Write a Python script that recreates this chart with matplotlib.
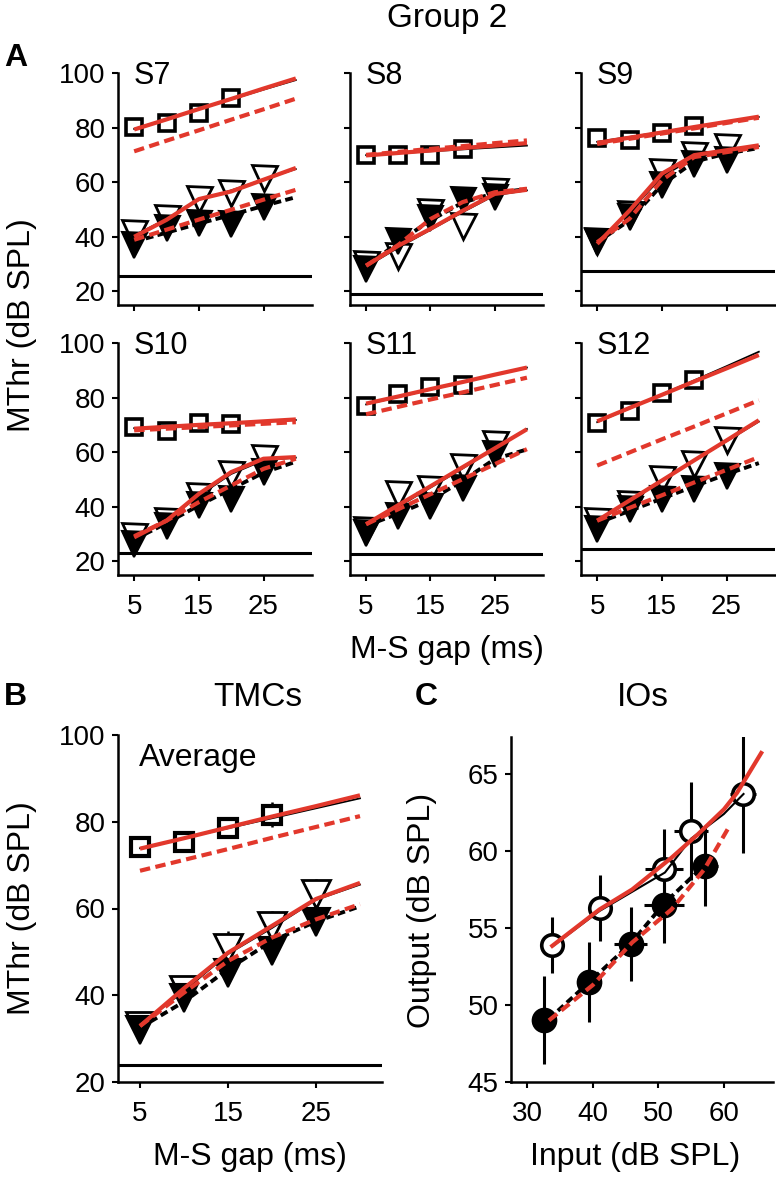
import matplotlib
matplotlib.use('Agg')
import matplotlib.pyplot as plt

plt.rcParams['font.family'] = ['Liberation Sans', 'DejaVu Sans']

RED = '#E2382C'
W, H = 776, 1178

# ---------------- data ----------------
gap_sq = [5, 10, 15, 20]
gap_tri = [5, 10, 15, 20, 25]
gap_fit = [5, 10, 15, 20, 25, 30]

subjects = ['S7', 'S8', 'S9', 'S10', 'S11', 'S12']

sq_data = {
    'S7': [80.1, 81.8, 85.5, 91.0],
    'S8': [70.0, 70.0, 70.0, 72.0],
    'S9': [76.2, 75.6, 78.1, 80.5],
    'S10': [69.2, 67.6, 70.8, 70.4],
    'S11': [76.9, 81.2, 83.7, 84.5],
    'S12': [70.8, 75.0, 81.5, 86.4],
}
open_data = {
    'S7': [41.4, 47.0, 54.0, 56.1, 61.7],
    'S8': [30.0, 33.0, 49.0, 44.0, 56.7],
    'S9': [38.5, 48.4, 63.7, 69.9, 72.9],
    'S10': [29.2, 34.9, 44.1, 52.0, 57.8],
    'S11': [31.5, 44.6, 46.4, 54.4, 62.9],
    'S12': [34.9, 41.0, 50.2, 55.7, 64.3],
}
filled_data = {
    'S7': [37.0, 43.3, 45.1, 44.7, 51.0],
    'S8': [28.2, 38.6, 46.9, 53.3, 54.5],
    'S9': [38.0, 47.2, 58.8, 66.8, 68.0],
    'S10': [26.3, 33.0, 40.7, 42.9, 52.7],
    'S11': [30.5, 36.6, 40.3, 47.0, 59.2],
    'S12': [31.8, 39.2, 42.9, 46.5, 51.4],
}
sq_fit_black = {
    'S7': [79.5, 83.1, 86.7, 90.3, 93.9, 97.4],
    'S8': [69.9, 70.6, 71.3, 72.0, 72.7, 73.4],
    'S9': [74.8, 76.6, 78.4, 80.3, 82.1, 83.9],
    'S10': [68.8, 69.4, 70.0, 70.6, 71.2, 71.8],
    'S11': [77.5, 80.2, 82.9, 85.6, 88.3, 91.0],
    'S12': [71.0, 76.0, 81.2, 86.3, 91.5, 96.8],
}
sq_fit_red = {
    'S7': [79.3, 83.0, 86.8, 90.5, 94.3, 98.0],
    'S8': [69.8, 70.7, 71.6, 72.5, 73.4, 74.3],
    'S9': [74.4, 76.3, 78.2, 80.2, 82.1, 84.0],
    'S10': [68.6, 69.3, 70.0, 70.6, 71.3, 72.0],
    'S11': [77.8, 80.4, 83.1, 85.7, 88.4, 91.0],
    'S12': [71.3, 76.2, 81.0, 85.9, 90.7, 95.6],
}
sq_fit_red_dash = {
    'S7': [71.3, 75.2, 79.0, 82.9, 86.7, 90.6],
    'S8': [70.0, 71.1, 72.2, 73.2, 74.3, 75.3],
    'S9': [74.0, 75.9, 77.8, 79.7, 81.7, 83.6],
    'S10': [68.0, 68.6, 69.2, 69.8, 70.4, 71.0],
    'S11': [73.9, 76.6, 79.3, 81.9, 84.6, 87.3],
    'S12': [55.1, 59.9, 64.7, 69.4, 74.2, 79.0],
}
open_fit_black = {
    'S7': [40.5, 46.5, 53.5, 57.0, 61.0, 64.8],
    'S8': [29.0, 36.0, 42.5, 49.0, 55.2, 57.0],
    'S9': [38.0, 49.0, 62.0, 69.0, 71.5, 73.2],
    'S10': [28.5, 35.0, 44.0, 52.0, 57.0, 58.0],
    'S11': [33.0, 40.0, 47.0, 54.0, 61.5, 68.5],
    'S12': [34.5, 42.0, 49.5, 57.0, 64.0, 71.2],
}
open_fit_red = {
    'S7': [40.0, 46.2, 53.8, 56.6, 60.9, 65.2],
    'S8': [29.4, 36.7, 42.9, 49.5, 55.7, 57.2],
    'S9': [37.4, 49.6, 63.1, 69.9, 71.7, 73.5],
    'S10': [28.8, 34.9, 44.7, 52.7, 57.6, 58.2],
    'S11': [33.6, 40.6, 47.5, 54.5, 61.4, 68.4],
    'S12': [34.9, 42.3, 49.6, 57.0, 64.3, 71.7],
}
filled_fit_black = {
    'S7': [38.2, 41.5, 44.8, 48.0, 51.3, 54.5],
    'S8': [29.0, 38.0, 46.0, 52.5, 56.0, 57.5],
    'S9': [38.0, 46.0, 59.0, 67.5, 70.5, 72.5],
    'S10': [28.0, 34.0, 40.5, 46.5, 52.5, 56.5],
    'S11': [33.0, 37.5, 42.5, 49.5, 57.5, 61.0],
    'S12': [34.0, 38.5, 43.0, 47.5, 51.9, 56.0],
}
filled_fit_red = {
    'S7': [38.9, 42.6, 46.3, 49.9, 53.6, 57.2],
    'S8': [29.4, 37.0, 46.5, 52.7, 56.3, 57.6],
    'S9': [38.0, 46.6, 60.7, 69.2, 71.0, 72.9],
    'S10': [29.2, 34.9, 41.7, 47.8, 53.9, 57.6],
    'S11': [33.6, 39.1, 44.6, 50.1, 55.6, 61.1],
    'S12': [34.9, 39.6, 44.2, 48.9, 53.5, 58.2],
}
threshold = {'S7': 25.5, 'S8': 19.0, 'S9': 27.3, 'S10': 23.0, 'S11': 22.6, 'S12': 24.5}

# Panel B (average)
avg_sq = [74.1, 75.4, 78.5, 81.6]
avg_sq_err = [1.0, 1.0, 1.0, 2.9]
avg_open = [32.9, 41.3, 51.0, 56.0, 63.3]
avg_open_err = [1.5, 2.5, 3.8, 3.5, 3.5]
avg_filled = [32.1, 39.4, 45.2, 50.2, 56.8]
avg_filled_err = [1.5, 2.0, 2.5, 2.5, 2.5]
avg_sq_black = [73.9, 76.2, 78.5, 80.8, 83.1, 85.4]
avg_sq_red = [73.8, 76.2, 78.7, 81.2, 83.6, 86.1]
avg_sq_red_dash = [68.7, 71.2, 73.7, 76.3, 78.8, 81.3]
avg_open_black = [33.0, 41.0, 49.5, 55.5, 62.0, 65.5]
avg_open_red = [32.9, 41.6, 49.8, 56.0, 62.2, 65.9]
avg_filled_black = [32.5, 38.5, 46.0, 52.5, 57.0, 60.5]
avg_filled_red = [32.9, 40.6, 47.9, 53.3, 57.5, 61.0]
avg_threshold = 24.0

# Panel C (input/output)
io_open_in = [33.8, 41.05, 50.9, 55.0, 62.9]
io_open_out = [53.9, 56.3, 58.8, 61.3, 63.7]
io_open_yerr = [1.8, 2.15, 2.6, 3.2, 3.85]
io_open_xerr = [0.6, 1.5, 2.9, 2.6, 2.0]
io_filled_in = [32.5, 39.45, 45.8, 50.86, 57.15]
io_filled_out = [49.0, 51.5, 53.95, 56.5, 59.0]
io_filled_yerr = [2.85, 2.6, 2.4, 2.5, 2.6]
io_filled_xerr = [0.5, 1.0, 2.5, 3.0, 1.9]
io_open_black_x = [33.8, 41.0, 51.0, 55.0, 60.0, 63.0]
io_open_black_y = [53.8, 56.1, 58.6, 60.8, 62.4, 63.7]
io_open_red_x = [33.8, 41.0, 46.0, 52.0, 56.0, 60.0, 62.0, 65.7]
io_open_red_y = [53.84, 56.2, 57.5, 59.56, 61.07, 62.7, 63.77, 66.36]
io_filled_black_x = [33.3, 39.5, 45.8, 50.9, 57.1]
io_filled_black_y = [49.1, 51.5, 54.0, 56.6, 59.1]
io_filled_red_x = [33.3, 40.0, 46.0, 52.0, 57.0, 60.7]
io_filled_red_y = [49.0, 51.3, 54.06, 56.2, 58.8, 61.5]

# ---------------- figure ----------------
fig = plt.figure(figsize=(W / 100, H / 100), dpi=100)


def ax_px(l, t, r, b):
    return fig.add_axes([l / W, 1 - b / H, (r - l) / W, (b - t) / H])


def ftext(x, y, s, **kw):
    fig.text(x / W, 1 - y / H, s, **kw)


def style(ax, labelsize=20):
    for s in ['top', 'right']:
        ax.spines[s].set_visible(False)
    for s in ['left', 'bottom']:
        ax.spines[s].set_linewidth(1.8)
    ax.tick_params(direction='out', length=4, width=1.5, labelsize=labelsize,
                   colors='black')
    ax.tick_params(axis='x', pad=10)
    ax.tick_params(axis='y', pad=5)


def draw_tmc(ax, sq, opn, fil, sqb, sqr, sqrd, opb, opr, flb, flr, thr,
             ms_sq=11.5, mew_sq=2.6, ms_tri=18, errs=None):
    dash_r = (2.5, 1.3)
    dash_k = (2.0, 1.1)
    if errs is not None:
        ax.errorbar(gap_sq, sq, yerr=errs[0], fmt='none', ecolor='k',
                    elinewidth=1.8, capsize=0, zorder=1)
        ax.errorbar(gap_tri, opn, yerr=errs[1], fmt='none', ecolor='k',
                    elinewidth=1.8, capsize=0, zorder=1)
        ax.errorbar(gap_tri, fil, yerr=errs[2], fmt='none', ecolor='k',
                    elinewidth=1.8, capsize=0, zorder=1)
    ax.axhline(thr, color='k', lw=2.2, zorder=1)
    ax.plot(gap_sq, sq, ls='none', marker='s', ms=ms_sq, mfc='white',
            mec='k', mew=mew_sq, zorder=2)
    ax.plot(gap_tri, opn, ls='none', marker='v', ms=ms_tri, mfc='white',
            mec='k', mew=2.0, zorder=2)
    ax.plot(gap_tri, fil, ls='none', marker='v', ms=ms_tri, mfc='k',
            mec='k', mew=1.5, zorder=2.1)
    ax.plot(gap_fit, sqb, color='k', lw=1.3, zorder=3)
    ax.plot(gap_fit, opb, color='k', lw=1.3, zorder=3)
    ax.plot(gap_fit, flb, color='k', lw=2.8, dashes=dash_k, zorder=3)
    ax.plot(gap_fit, sqr, color=RED, lw=3, zorder=4, solid_capstyle='butt')
    ax.plot(gap_fit, opr, color=RED, lw=3, zorder=4, solid_capstyle='butt')
    ax.plot(gap_fit, sqrd, color=RED, lw=3, dashes=dash_r, zorder=4)
    ax.plot(gap_fit, flr, color=RED, lw=3, dashes=dash_r, zorder=4)


cols = [(118, 312), (350, 543), (581, 775)]
rows = [(73, 305), (343, 575)]

for i, s in enumerate(subjects):
    r, c = divmod(i, 3)
    ax = ax_px(cols[c][0], rows[r][0], cols[c][1], rows[r][1])
    draw_tmc(ax, sq_data[s], open_data[s], filled_data[s], sq_fit_black[s],
             sq_fit_red[s], sq_fit_red_dash[s], open_fit_black[s],
             open_fit_red[s], filled_fit_black[s], filled_fit_red[s],
             threshold[s])
    ax.set_xlim(2.5, 32.5)
    ax.set_ylim(15, 100)
    ax.set_xticks([5, 15, 25])
    ax.set_yticks([20, 40, 60, 80, 100])
    style(ax)
    if c != 0:
        ax.set_yticklabels([])
    if r == 0:
        ax.set_xticklabels([])
    ax.text(0.08, 0.985, s, transform=ax.transAxes, fontsize=22,
            ha='left', va='center')

# Panel B
axB = ax_px(118, 735, 382, 1082)
draw_tmc(axB, avg_sq, avg_open, avg_filled, avg_sq_black, avg_sq_red,
         avg_sq_red_dash, avg_open_black, avg_open_red, avg_filled_black,
         avg_filled_red, avg_threshold, ms_sq=13, mew_sq=3, ms_tri=20,
         errs=(avg_sq_err, avg_open_err, avg_filled_err))
axB.set_xlim(2.5, 32.5)
axB.set_ylim(20, 100)
axB.set_xticks([5, 15, 25])
axB.set_yticks([20, 40, 60, 80, 100])
style(axB)
axB.text(0.08, 0.935, 'Average', transform=axB.transAxes, fontsize=23,
         ha='left', va='center')

# Panel C
axC = ax_px(511, 737, 773, 1082)
axC.errorbar(io_open_in, io_open_out, xerr=io_open_xerr, yerr=io_open_yerr,
             fmt='none', ecolor='k', elinewidth=2.2, capsize=0, zorder=1)
axC.errorbar(io_filled_in, io_filled_out, xerr=io_filled_xerr,
             yerr=io_filled_yerr, fmt='none', ecolor='k', elinewidth=2.2,
             capsize=0, zorder=1)
axC.plot(io_open_in, io_open_out, ls='none', marker='o', ms=15.5, mfc='white',
         mec='k', mew=2.6, zorder=2)
axC.plot(io_filled_in, io_filled_out, ls='none', marker='o', ms=17, mfc='k',
         mec='k', mew=1.5, zorder=2)
axC.plot(io_open_black_x, io_open_black_y, color='k', lw=1.5, zorder=3)
axC.plot(io_filled_black_x, io_filled_black_y, color='k', lw=2.8,
         dashes=(2.0, 1.1), zorder=3)
axC.plot(io_open_red_x, io_open_red_y, color=RED, lw=3, zorder=4)
axC.plot(io_filled_red_x, io_filled_red_y, color=RED, lw=3,
         dashes=(2.5, 1.3), zorder=4)
axC.set_xlim(27.5, 67.5)
axC.set_ylim(45, 67.4)
axC.set_xticks([30, 40, 50, 60])
axC.set_yticks([45, 50, 55, 60, 65])
style(axC)

# ---------------- texts ----------------
ftext(447, 18, 'Group 2', fontsize=24, ha='center', va='center')
ftext(4, 58, 'A', fontsize=23, fontweight='bold', ha='left', va='center')
ftext(22, 325, 'MThr (dB SPL)', fontsize=23, rotation=90, ha='center', va='center')
ftext(447, 650, 'M-S gap (ms)', fontsize=23, ha='center', va='center')

ftext(4, 697, 'B', fontsize=23, fontweight='bold', ha='left', va='center')
ftext(258, 697, 'TMCs', fontsize=24, ha='center', va='center')
ftext(22, 908, 'MThr (dB SPL)', fontsize=23, rotation=90, ha='center', va='center')
ftext(250, 1157, 'M-S gap (ms)', fontsize=23, ha='center', va='center')

ftext(415, 697, 'C', fontsize=23, fontweight='bold', ha='left', va='center')
ftext(643, 697, 'IOs', fontsize=24, ha='center', va='center')
ftext(422, 910, 'Output (dB SPL)', fontsize=23, rotation=90, ha='center', va='center')
ftext(635, 1157, 'Input (dB SPL)', fontsize=23, ha='center', va='center')

fig.savefig('out.png', dpi=100)
